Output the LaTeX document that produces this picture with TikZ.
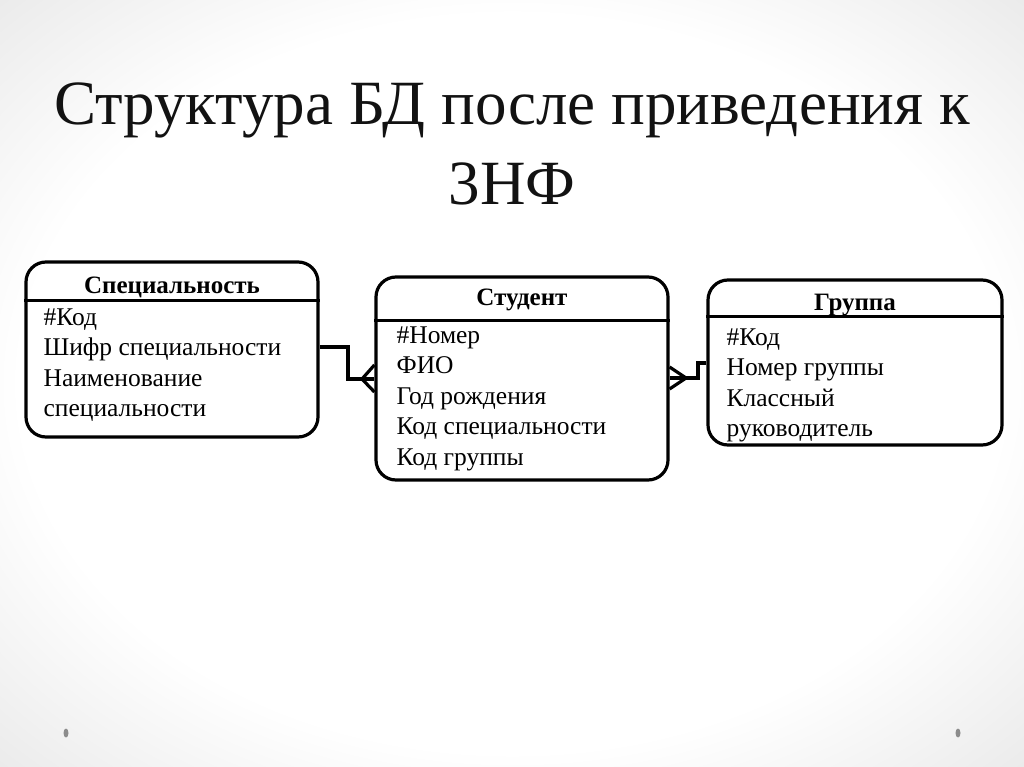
\documentclass[tikz,border=0pt]{standalone}
\usepackage{fontspec}
\setmainfont{Liberation Serif}
\usetikzlibrary{positioning, calc}
\pgfdeclareradialshading{slidebg}{\pgfpoint{0bp}{0bp}}{color(0bp)=(white); color(24bp)=(white); color(50bp)=(black!18); color(72bp)=(black!26)}

\begin{document}
\begin{tikzpicture}
    [x=1pt, y=-1pt,
    title/.style={anchor=base, inner sep=0pt, text=titlegray, font=\fontsize{63}{75}\selectfont},
    ent/.style={draw, line width=3.2pt, rounded corners=20pt, inner sep=0pt},
    head/.style={anchor=base, inner sep=0pt, font=\fontsize{25}{30}\selectfont\bfseries},
    field/.style={anchor=base west, inner sep=0pt, font=\fontsize{25.5}{30}\selectfont},
    link/.style={draw, line width=3.2pt, line join=miter}]
    \definecolor{titlegray}{RGB}{18,18,18};
    \definecolor{dotgray}{RGB}{140,140,140};
    \useasboundingbox (0,0) rectangle (1024,767);
    \shade[shading=slidebg] (0,0) rectangle (1024,767);
    \fill[dotgray] (66,733) ellipse (2.5pt and 4.5pt);
    \fill[dotgray] (958,733) ellipse (2.5pt and 4.5pt);
    \node [title] (Title) at (512,125) {Структура БД после приведения к};
    \node [title] (TitleNF) at (512,205) {3НФ};
    \node [ent, minimum width=292pt, minimum height=175pt] (Spec) at (172,349.5) {};
    \node [ent, minimum width=292pt, minimum height=203pt] (Student) at (522,378.5) {};
    \node [ent, minimum width=294pt, minimum height=165pt] (Group) at (855,362.5) {};
    \node [head] (SpecHead) at ($(Spec.north)+(0,33)$) {Специальность};
    \node [head] (StudentHead) at ($(Student.north)+(0,30)$) {Студент};
    \node [head] (GroupHead) at ($(Group.north)+(0,32)$) {Группа};
    \draw[link] ($(Spec.north west)+(0,40)$) -- ($(Spec.north east)+(0,40)$);
    \draw[link] ($(Student.north west)+(0,45)$) -- ($(Student.north east)+(0,45)$);
    \draw[link] ($(Group.north west)+(0,38)$) -- ($(Group.north east)+(0,38)$);
    \foreach \t [count=\i] in {\#Код, Шифр специальности, Наименование, специальности}
        \node [field] (Spec-\i) at ($(Spec.north west)+(19,65+30.3*\i-30.3)$) {\t};
    \foreach \t [count=\i] in {\#Номер, ФИО, Год рождения, Код специальности, Код группы}
        \node [field] (Student-\i) at ($(Student.north west)+(22,68+30.5*\i-30.5)$) {\t};
    \foreach \t [count=\i] in {\#Код, Номер группы, Классный, руководитель}
        \node [field] (Group-\i) at ($(Group.north west)+(20,67+30.3*\i-30.3)$) {\t};
    \coordinate (SpecFoot) at (362,379);
    \coordinate (GroupFoot) at (686,378);
    \draw[link] (Spec.east |- 0,347) -- (348,347) |- (Student.west |- 0,379);
    \draw[link] (Student.west |- 0,365) -- (SpecFoot) -- (Student.west |- 0,392);
    \draw[link] (Group.west |- 0,363) -| (698,378) -- (Student.east |- 0,378);
    \draw[link] (Student.east |- 0,367) -- (GroupFoot) -- (Student.east |- 0,389);
\end{tikzpicture}
\end{document}
